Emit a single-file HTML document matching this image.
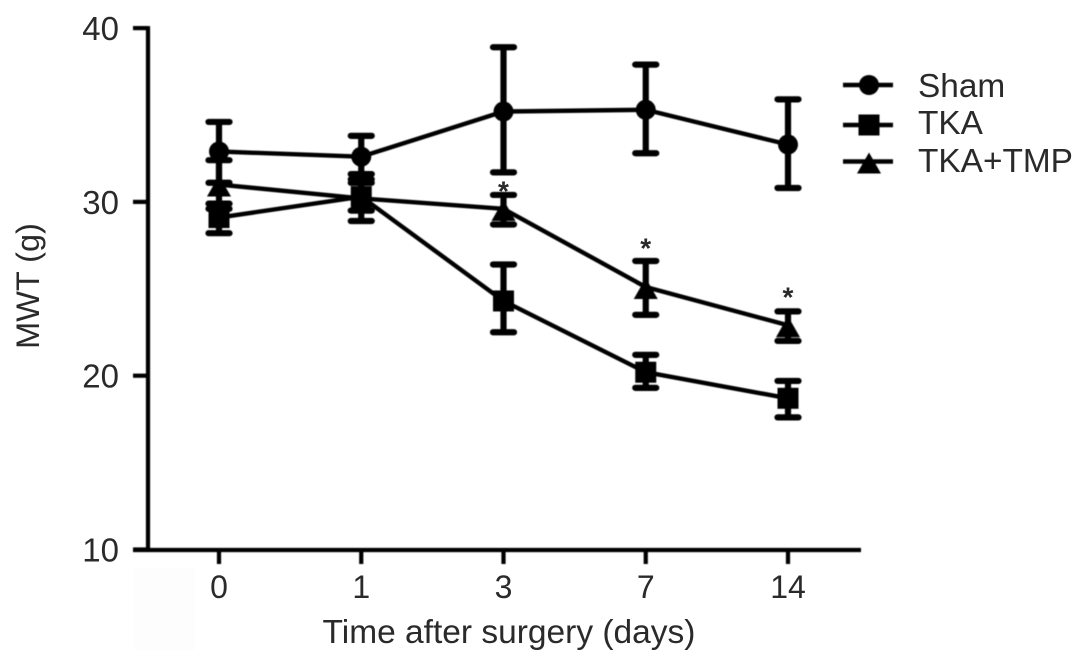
<!DOCTYPE html>
<html lang="en">
<head>
<meta charset="utf-8">
<title>MWT over time after surgery</title>
<style>
html,body{margin:0;padding:0;background:#fff;width:1082px;height:664px;overflow:hidden}
svg{display:block;position:absolute;left:0;top:0}
text{font-family:"Liberation Sans",Arial,sans-serif;fill:#2a2a2a}
</style>
</head>
<body>
<svg id="chart" width="1082" height="664" viewBox="0 0 1082 664" xmlns="http://www.w3.org/2000/svg">
  <defs><filter id="soft" x="-5%" y="-5%" width="110%" height="110%"><feGaussianBlur stdDeviation="0.55"/></filter></defs>
  <rect width="1082" height="664" fill="#fff"/>
  <rect x="134" y="568" width="61" height="82" fill="#fdfdfd"/>
  <g id="axes" filter="url(#soft)"></g>
  <g id="series" filter="url(#soft)"></g>
  <g id="labels"></g>
  <text x="509" y="643" font-size="33.5" text-anchor="middle">Time after surgery (days)</text>
  <text transform="translate(39,286) rotate(-90)" font-size="32.5" text-anchor="middle">MWT (g)</text>
  <g>
    <g id="legend-marks" filter="url(#soft)"></g>
    <text x="918" y="97" font-size="33.4">Sham</text>
    <text x="918" y="134" font-size="33.4">TKA</text>
    <text x="918" y="172" font-size="33.4">TKA+TMP</text>
  </g>
</svg>
<script>
var categories = ['0', '1', '3', '7', '14'];
var yTicks = [10, 20, 30, 40];

var shamMean = [32.9, 32.6, 35.2, 35.3, 33.3];
var shamUpper = [34.6, 33.8, 38.9, 37.9, 35.9];
var shamLower = [31.1, 31.6, 31.7, 32.8, 30.8];

var tkaMean = [29.1, 30.3, 24.3, 20.2, 18.7];
var tkaUpper = [29.9, 31.1, 26.4, 21.2, 19.7];
var tkaLower = [28.2, 29.5, 22.5, 19.3, 17.6];

var tmpMean = [31.0, 30.2, 29.6, 25.1, 22.9];
var tmpUpper = [32.4, 31.3, 30.4, 26.6, 23.7];
var tmpLower = [29.6, 28.9, 28.7, 23.5, 22.0];

var significance = [null, null, 30.9, 27.6, 24.8];

function x(i) { return 219 + i * 142.25; }
function y(v) { return 549.5 - (v - 10) * 17.38; }

var NS = 'http://www.w3.org/2000/svg';
function mk(parent, tag, attrs) {
  var el = document.createElementNS(NS, tag);
  for (var k in attrs) el.setAttribute(k, attrs[k]);
  parent.appendChild(el);
  return el;
}
function line(parent, x1, y1, x2, y2, w, cap) {
  return mk(parent, 'line', {x1: x1, y1: y1, x2: x2, y2: y2, stroke: '#000', 'stroke-width': w, 'stroke-linecap': cap || 'butt'});
}
function marker(parent, kind, cx, cy) {
  if (kind === 'circle') return mk(parent, 'circle', {cx: cx, cy: cy, r: 10, fill: '#000'});
  if (kind === 'square') return mk(parent, 'rect', {x: cx - 10.5, y: cy - 10.5, width: 21, height: 21, fill: '#000'});
  return mk(parent, 'polygon', {points: (cx) + ',' + (cy - 9) + ' ' + (cx + 12) + ',' + (cy + 12) + ' ' + (cx - 12) + ',' + (cy + 12), fill: '#000'});
}

var axes = document.getElementById('axes');
var labels = document.getElementById('labels');
var series = document.getElementById('series');
var legendMarks = document.getElementById('legend-marks');

var yAxis = line(axes, 148, y(40) - 2, 148, y(10) + 2, 4.2);


var xAxis = line(axes, 133, 550, 861, 550, 4.2);



yTicks.forEach(function (t) {
  var tick = line(axes, 133, y(t), 148, y(t), 4.2);
  
  
  var lab = mk(labels, 'text', {x: 119, y: y(t) + 12, 'font-size': 33, 'text-anchor': 'end'});
  lab.textContent = String(t);
  
  
});

categories.forEach(function (c, i) {
  var tick = line(axes, x(i), 550, x(i), 564, 4.2);
  
  
  var lab = mk(labels, 'text', {x: x(i), y: 598, 'font-size': 32, 'text-anchor': 'middle'});
  lab.textContent = c;
  
  
});

function drawSeries(name, kind, mean, upper, lower) {
  var g = mk(series, 'g', {});
  
  
  var pts = mean.map(function (v, i) { return x(i) + ',' + y(v); }).join(' ');
  var path = mk(g, 'polyline', {points: pts, fill: 'none', stroke: '#000', 'stroke-width': 4.4, 'stroke-linejoin': 'round'});
  
  
  mean.forEach(function (v, i) {
    var stem = line(g, x(i), y(upper[i]), x(i), y(lower[i]), 6.2);
    
    
    var capTop = line(g, x(i) - 10.5, y(upper[i]), x(i) + 10.5, y(upper[i]), 6.2, 'round');
    
    
    var capBottom = line(g, x(i) - 10.5, y(lower[i]), x(i) + 10.5, y(lower[i]), 6.2, 'round');
    
    
    var m = marker(g, kind, x(i), y(v));
    
    
  });
}
drawSeries('series-sham', 'circle', shamMean, shamUpper, shamLower);
drawSeries('series-tka', 'square', tkaMean, tkaUpper, tkaLower);
drawSeries('series-tka-tmp', 'triangle', tmpMean, tmpUpper, tmpLower);

significance.forEach(function (v, i) {
  if (v === null) return;
  var star = mk(labels, 'text', {x: x(i), y: y(v) + 14, 'font-size': 28, 'font-weight': 'bold', 'text-anchor': 'middle'});
  star.textContent = '*';
  
  
});

[['circle', 85], ['square', 125], ['triangle', 161.5]].forEach(function (e) {
  var l = line(legendMarks, 843, e[1], 893, e[1], 4.4);
  
  
  var m = marker(legendMarks, e[0], 869, e[1]);
  
  
});
</script>
</body>
</html>
